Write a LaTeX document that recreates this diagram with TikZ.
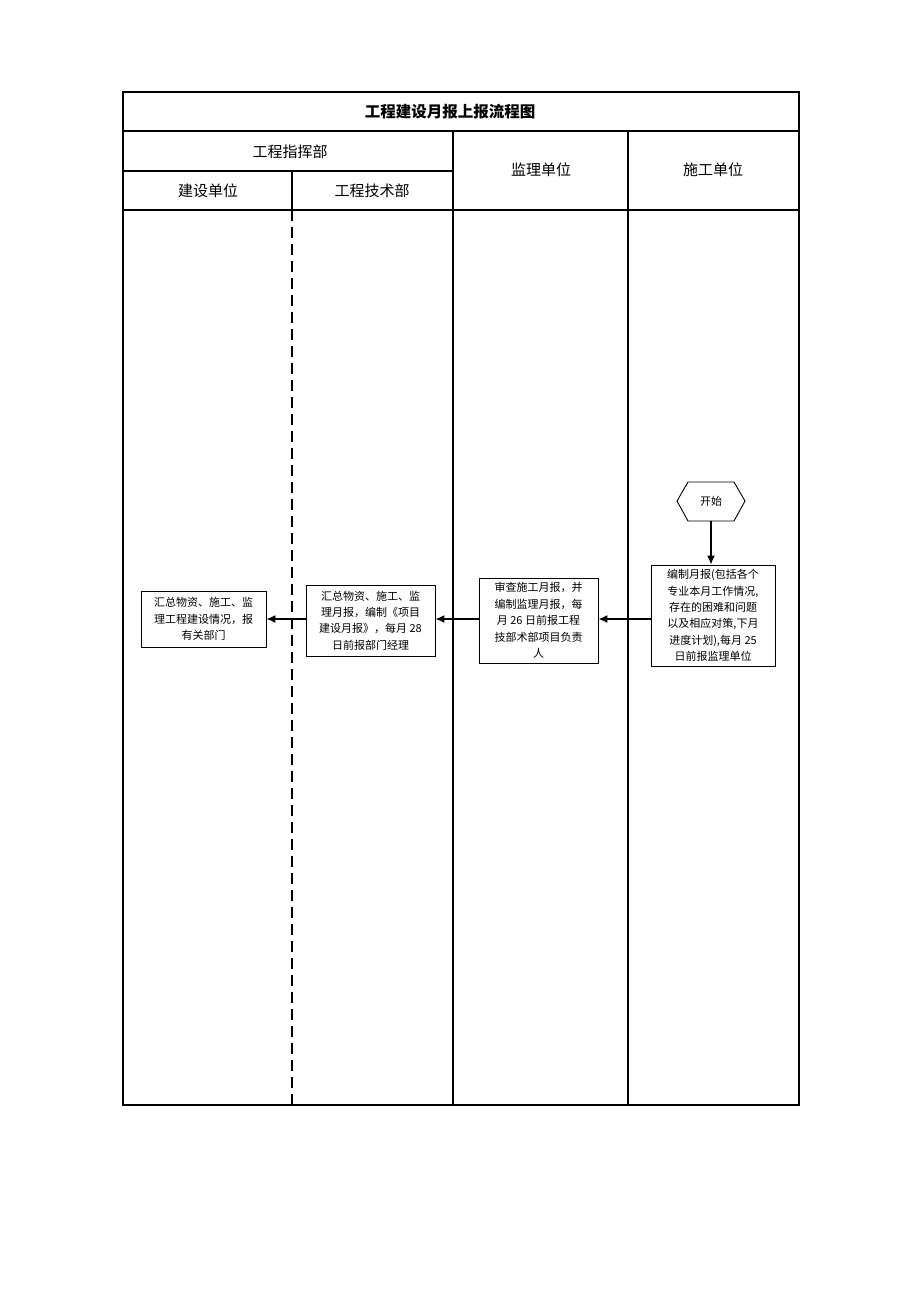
\documentclass[tikz,border=0pt]{standalone}
\usepackage{fontspec}
\setmainfont{Liberation Serif}
\newfontfamily\cjk{Noto Sans CJK SC}
\usetikzlibrary{arrows.meta}
\begin{document}
\begin{tikzpicture}[x=1pt,y=-1pt,
  frame/.style={line width=1.8pt},
  lane/.style={line width=1.8pt},
  hdr/.style={font=\cjk\fontsize{15}{17}\selectfont},
  title/.style={font=\cjk\bfseries\fontsize{15.5}{17}\selectfont},
  procbox/.style={draw,line width=0.9pt,align=center,inner sep=1pt,font=\cjk\fontsize{11}{16.4}\selectfont},
  flow/.style={line width=1.4pt,-{Latex[length=9pt,width=8pt]}}]
\useasboundingbox (0,0) rectangle (920,1302);
% frame
\draw[frame] (123,92) rectangle (799,1105);
\draw[lane] (123,131) -- (799,131);
\draw[lane] (123,171) -- (453,171);
\draw[lane] (123,210) -- (799,210);
\draw[lane] (453,131) -- (453,1105);
\draw[lane] (628,131) -- (628,1105);
\draw[lane] (292,171) -- (292,210);
\draw[lane,dash pattern=on 11pt off 6pt] (292,210) -- (292,1105);
% headers
\node[title] (t) at (450,112) {工程建设月报上报流程图};
\node[hdr] (h1) at (290,152) {工程指挥部};
\node[hdr] (h2) at (208,191) {建设单位};
\node[hdr] (h3) at (372,191) {工程技术部};
\node[hdr] (h4) at (541,170) {监理单位};
\node[hdr] (h5) at (713,170) {施工单位};
% start hexagon
\draw[line width=0.9pt] (677,501) -- (688,482) -- (734,482) -- (745,501) -- (734,521) -- (688,521) -- cycle;
\node[font=\cjk\fontsize{11}{12}\selectfont] (st) at (711,501) {开始};
\coordinate (stb) at (711,521);
% boxes
\node[procbox,minimum width=124pt,minimum height=101pt] (b4) at (713,615.5)
  {编制月报(包括各个\\专业本月工作情况,\\存在的困难和问题\\以及相应对策,下月\\进度计划),每月 25\\日前报监理单位};
\node[procbox,minimum width=119pt,minimum height=85pt] (b3) at (538.5,620.5)
  {审查施工月报，并\\编制监理月报，每\\月 26 日前报工程\\技部术部项目负责\\人};
\node[procbox,minimum width=129pt,minimum height=71pt] (b2) at (370.5,620.5)
  {汇总物资、施工、监\\理月报，编制《项目\\建设月报》，每月 28\\日前报部门经理};
\node[procbox,minimum width=125pt,minimum height=56pt] (b1) at (203.5,619)
  {汇总物资、施工、监\\理工程建设情况，报\\有关部门};
% arrows
\draw[flow] (stb) -- (stb |- b4.north);
\draw[flow] (b4.west |- 0,619) -- (b3.east |- 0,619);
\draw[flow] (b3.west |- 0,619) -- (b2.east |- 0,619);
\draw[flow] (b2.west |- 0,619) -- (b1.east |- 0,619);
\end{tikzpicture}
\end{document}
